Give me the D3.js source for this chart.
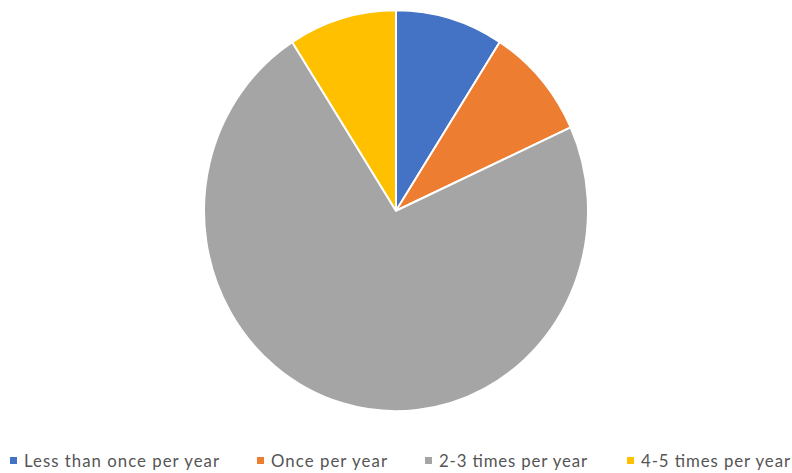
<!DOCTYPE html>
<html>
<head>
<meta charset="utf-8">
<script src="https://cdn.jsdelivr.net/npm/d3@7"></script>
<style>
  html, body { margin: 0; padding: 0; background: #fff; }
  svg { display: block; }
</style>
</head>
<body>
<svg id="chart" width="792" height="473"></svg>
<script>
// Frequency categories and their counts
const categories = ["Less than once per year", "Once per year", "2-3 times per year", "4-5 times per year"];
const values = [1, 1, 8, 1];
const colors = ["#4472C4", "#ED7D31", "#A5A5A5", "#FFC000"];

const svg = d3.select("#chart");

// Pie geometry
const cx = 396, cy = 210.7, rx = 192, ry = 200.5;

const pie = d3.pie().sort(null).value(d => d.value);
const arc = d3.arc().innerRadius(0).outerRadius(rx);
const data = categories.map((c, i) => ({ name: c, value: values[i], color: colors[i] }));

const g = svg.append("g")
  .attr("transform", `translate(${cx},${cy}) scale(1,${ry / rx})`);

g.selectAll("path")
  .data(pie(data))
  .join("path")
  .attr("d", arc)
  .attr("fill", d => d.data.color)
  .attr("stroke", "#fff")
  .attr("stroke-width", 2)
  .attr("stroke-linejoin", "round");

// Legend row under the pie: marker left edges and label run lengths
const legendX = [10, 257, 425, 627];
const legendTextLen = [195, 116, 148, 149];
const sq = 7, textGap = 7, baseline = 467;

const items = svg.append("g").attr("class", "legend")
  .selectAll("g")
  .data(data)
  .join("g")
  .attr("transform", (d, i) => `translate(${legendX[i]},0)`);

items.append("rect")
  .attr("width", sq).attr("height", sq)
  .attr("y", baseline - 10)
  .attr("fill", d => d.color);

items.append("text")
  .attr("x", sq + textGap)
  .attr("y", baseline)
  .attr("font-family", "Lato, 'Open Sans', sans-serif")
  .attr("font-size", 16.8)
  .attr("textLength", (d, i) => legendTextLen[i])
  .attr("lengthAdjust", "spacing")
  .attr("fill", "#555")
  .text(d => d.name);
</script>
</body>
</html>
